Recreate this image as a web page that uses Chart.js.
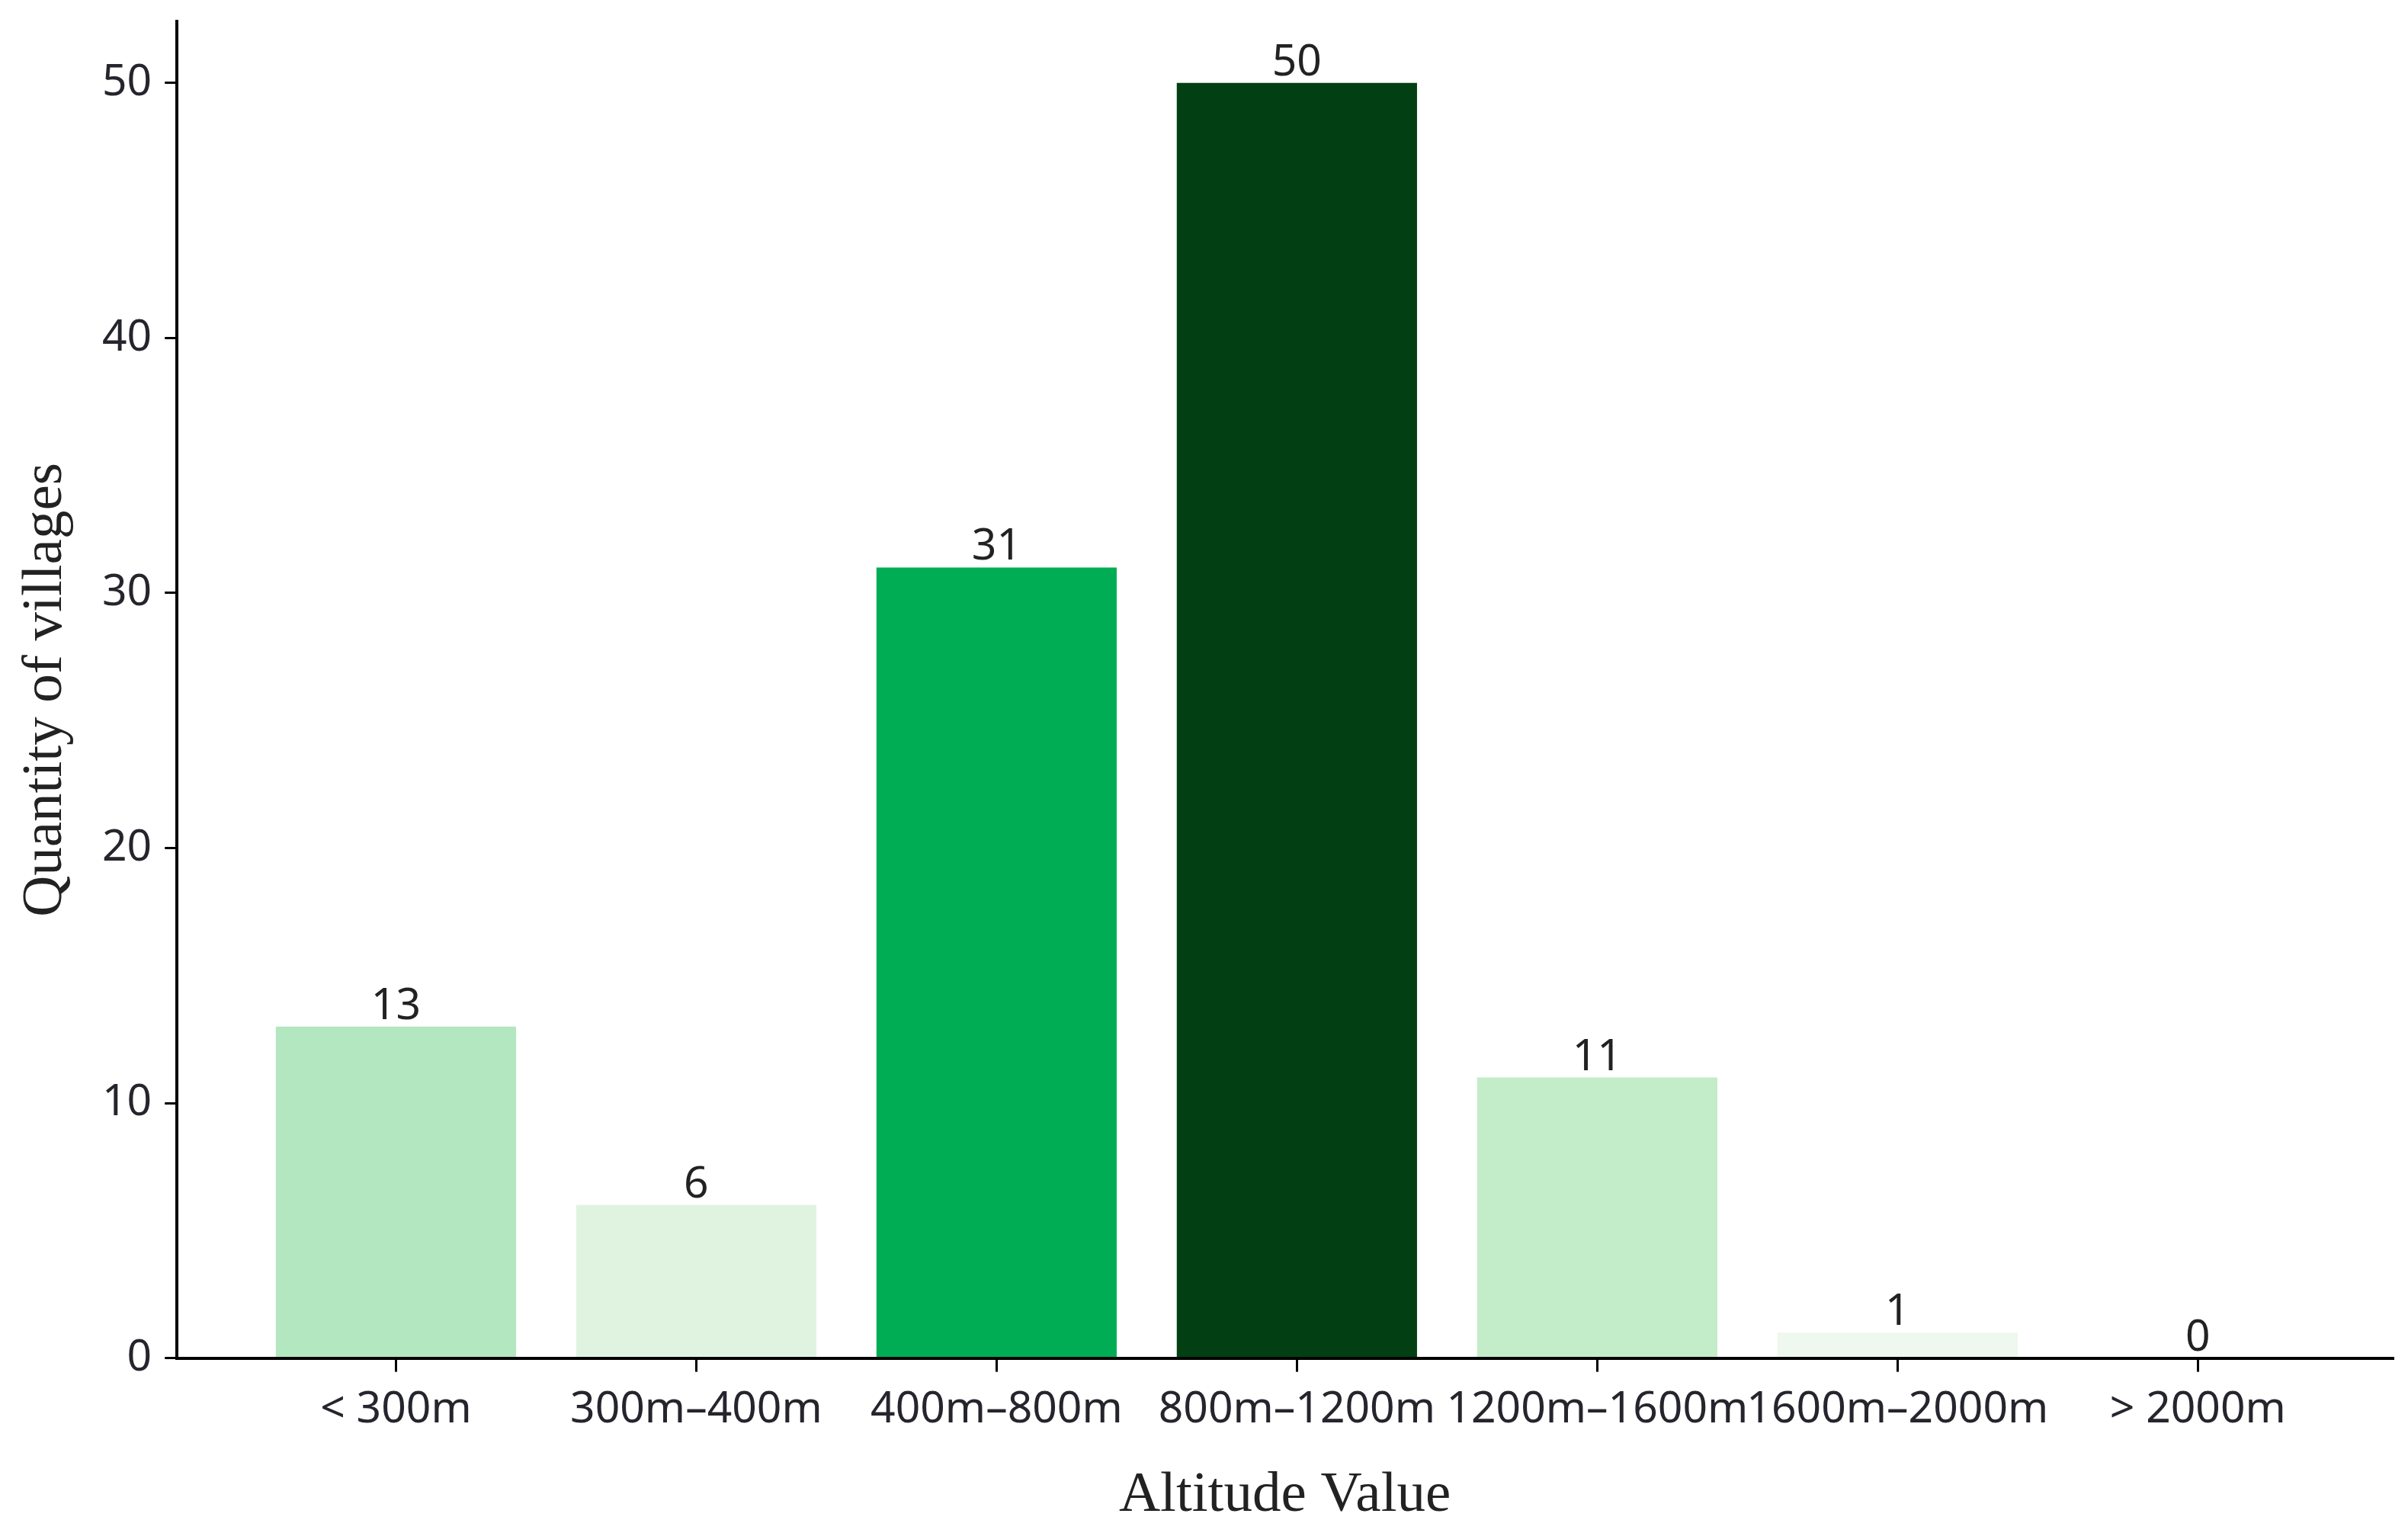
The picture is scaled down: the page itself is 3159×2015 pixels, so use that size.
<!DOCTYPE html>
<html>
<head>
<meta charset="utf-8">
<script src="https://cdn.jsdelivr.net/npm/chart.js@4.4.1/dist/chart.umd.min.js"></script>
<style>
  html, body { margin: 0; padding: 0; background: #fff; }
  #wrap { width: 3159px; height: 2015px; }
</style>
</head>
<body>
<div id="wrap"><canvas id="myChart" width="3159" height="2015"></canvas></div>
<script>
const categories = ['< 300m', '300m–400m', '400m–800m', '800m–1200m', '1200m–1600m', '1600m–2000m', '> 2000m'];
const villageCounts = [13, 6, 31, 50, 11, 1, 0];
const barColors = ['#b3e7bf', '#e0f3e1', '#00ad54', '#024013', '#c3ecc9', '#eef8ee', '#f7fcf5'];
const yTicks = [0, 10, 20, 30, 40, 50];

const tickFont = { family: '"Noto Sans", sans-serif', size: 57 };
const titleFont = { family: '"Liberation Serif", serif', size: 75 };

// value on top of each bar
const valueLabels = {
  id: 'valueLabels',
  afterDatasetsDraw(chart) {
    const ctx = chart.ctx;
    const meta = chart.getDatasetMeta(0);
    ctx.save();
    ctx.font = '57px "Noto Sans"';
    ctx.fillStyle = '#222';
    ctx.textAlign = 'center';
    ctx.textBaseline = 'alphabetic';
    meta.data.forEach((bar, i) => {
      ctx.fillText(String(villageCounts[i]), bar.x, bar.y - 10);
    });
    ctx.restore();
  }
};

const ctx = document.getElementById('myChart').getContext('2d');

const data = {
  datasets: [{
    label: 'Quantity of villages',
    data: villageCounts.map((v, i) => ({ x: i, y: v })),
    backgroundColor: barColors,
    borderWidth: 0,
    barPercentage: 0.8,
    categoryPercentage: 1.0
  }]
};

const config = {
  type: 'bar',
  data: data,
  plugins: [valueLabels],
  options: {
    responsive: false,
    animation: false,
    layout: { padding: { top: 0, right: 20, left: 0, bottom: 0 } },
    plugins: {
      legend: { display: false },
      tooltip: { enabled: false }
    },
    scales: {
      x: {
        type: 'linear',
        offset: false,
        min: -0.729,
        max: 6.649,
        afterBuildTicks: (axis) => {
          axis.ticks = categories.map((c, i) => ({ value: i }));
        },
        ticks: {
          callback: (v) => categories[v],
          autoSkip: false,
          maxRotation: 0,
          minRotation: 0,
          padding: 16,
          color: '#25252d',
          font: tickFont
        },
        grid: {
          offset: false,
          drawOnChartArea: false,
          drawTicks: true,
          tickLength: 18,
          color: '#000',
          lineWidth: 3
        },
        border: { display: true, color: '#000', width: 4 },
        title: {
          display: true,
          text: 'Altitude Value',
          color: '#222',
          font: titleFont,
          padding: { top: 17, bottom: 8 }
        }
      },
      y: {
        min: 0,
        max: 52.4,
        afterBuildTicks: (axis) => {
          axis.ticks = yTicks.map(v => ({ value: v }));
        },
        ticks: {
          padding: 17,
          color: '#25252d',
          font: { family: '"Noto Sans", sans-serif', size: 57, lineHeight: 0.4 }
        },
        grid: {
          drawOnChartArea: false,
          drawTicks: true,
          tickLength: 16,
          color: '#000',
          lineWidth: 3
        },
        border: { display: true, color: '#000', width: 4 },
        title: {
          display: true,
          text: 'Quantity of villages',
          color: '#222',
          font: titleFont,
          padding: { top: 15, bottom: 12 }
        }
      }
    }
  }
};

const myChart = new Chart(ctx, config);
</script>
</body>
</html>
